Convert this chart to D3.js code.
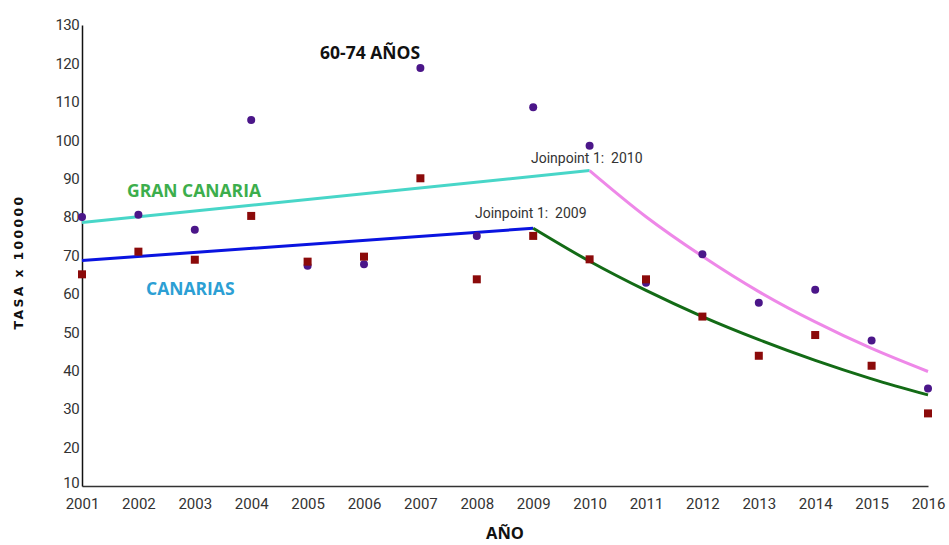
<!DOCTYPE html>
<html>
<head>
<meta charset="utf-8">
<script src="https://cdn.jsdelivr.net/npm/d3@7"></script>
<style>
  body { margin: 0; background: #fff; }
  .tick text { font-family: Roboto, "Open Sans", sans-serif; font-size: 15px; fill: #333; }
</style>
</head>
<body>
<div id="chart"></div>
<script>
// años
const years = [2001, 2002, 2003, 2004, 2005, 2006, 2007, 2008, 2009, 2010, 2011, 2012, 2013, 2014, 2015, 2016];
// tasas observadas (puntos)
const granCanaria = [80.0, 80.6, 76.7, 105.3, 67.3, 67.7, 118.8, 75.1, 108.6, 98.6, 62.9, 70.3, 57.7, 61.1, 47.9, 35.4];
const canarias = [65.1, 71.0, 68.9, 80.3, 68.4, 69.7, 90.1, 63.8, 75.1, 69.0, 63.8, 54.1, 43.9, 49.3, 41.3, 28.9];
// tramos joinpoint (valores ajustados)
const gcSeg1Years = [2001, 2010];
const gcSeg1 = [78.6, 92.1];
const gcSeg2Years = [2010, 2011, 2012, 2013, 2014, 2015, 2016];
const gcSeg2 = [92.1, 80.1, 69.8, 60.6, 52.7, 45.8, 39.8];
const caSeg1Years = [2001, 2009];
const caSeg1 = [68.7, 77.1];
const caSeg2Years = [2009, 2010, 2011, 2012, 2013, 2014, 2015, 2016];
const caSeg2 = [77.1, 68.5, 60.9, 54.1, 48.1, 42.7, 37.9, 33.7];
const yTicks = [10, 20, 30, 40, 50, 60, 70, 80, 90, 100, 110, 120, 130];

const W = 949, H = 545;
const margin = { top: 25, right: 21, bottom: 59, left: 82 };

const svg = d3.select('#chart').append('svg')
    .attr('width', W)
    .attr('height', H);

const xScale = d3.scaleLinear().domain([2001, 2016]).range([margin.left, W - margin.right]);
const yScale = d3.scaleLinear().domain([10, 130]).range([H - margin.bottom, margin.top]);

// ejes
let xAxis = d3.axisBottom(xScale).tickValues(years).tickFormat(d3.format('d')).tickSize(0).tickPadding(12);
let yAxis = d3.axisLeft(yScale).tickValues(yTicks).tickSize(0).tickPadding(3);

let gx = svg.append('g').attr('transform', 'translate(0,' + (H - margin.bottom) + ')').call(xAxis);
gx.select('.domain').attr('stroke', '#333').attr('stroke-width', 1.5);
let gy = svg.append('g').attr('transform', 'translate(' + margin.left + ',0)').call(yAxis);
gy.select('.domain').attr('stroke', '#111').attr('stroke-width', 1.5);
gy.selectAll('.tick text').style('letter-spacing', '-0.6px');
// el "10" queda pegado al eje x, lo subimos un poco
gy.selectAll('.tick text').filter(function (d) { return d === 10; }).attr('dy', '0.1em');

// líneas de tendencia
let line = d3.line()
    .x(function (d) { return xScale(d[0]); })
    .y(function (d) { return yScale(d[1]); })
    .curve(d3.curveMonotoneX);

let segments = [
    { xs: gcSeg1Years, ys: gcSeg1, color: '#48d6c8' },
    { xs: gcSeg2Years, ys: gcSeg2, color: '#ee88e8' },
    { xs: caSeg1Years, ys: caSeg1, color: '#0a14e0' },
    { xs: caSeg2Years, ys: caSeg2, color: '#136b16' }
];
segments.forEach(function (s) {
    svg.append('path')
        .datum(d3.zip(s.xs, s.ys))
        .attr('fill', 'none')
        .attr('stroke', s.color)
        .attr('stroke-width', 3)
        .attr('d', line);
});

// puntos
svg.selectAll('.gc').data(d3.zip(years, granCanaria)).enter()
    .append('circle').classed('gc', true)
    .attr('cx', function (d) { return xScale(d[0]); })
    .attr('cy', function (d) { return yScale(d[1]); })
    .attr('r', 4)
    .attr('fill', '#4b1689');

svg.selectAll('.ca').data(d3.zip(years, canarias)).enter()
    .append('rect').classed('ca', true)
    .attr('x', function (d) { return xScale(d[0]) - 4; })
    .attr('y', function (d) { return yScale(d[1]) - 4; })
    .attr('width', 8)
    .attr('height', 8)
    .attr('fill', '#8b0a0a');

// textos
function label(txt, x, y, opts) {
    svg.append('text')
        .attr('x', x).attr('y', y)
        .attr('text-anchor', opts.anchor || 'start')
        .attr('font-family', opts.family || '"Open Sans", sans-serif')
        .attr('font-size', opts.size)
        .attr('font-weight', opts.weight || 'normal')
        .attr('fill', opts.color)
        .style('white-space', 'pre')
        .text(txt);
}

label('60-74 AÑOS', 320, 59, { size: 17.5, weight: 'bold', color: '#111' });
label('GRAN CANARIA', 127, 197, { size: 17.5, weight: 'bold', color: '#3cae4c' });
label('CANARIAS', 146, 295, { size: 17.5, weight: 'bold', color: '#2c9fd4' });
label('Joinpoint 1:  2010', 531, 163, { size: 14, color: '#333', family: 'Roboto, sans-serif' });
label('Joinpoint 1:  2009', 475, 218, { size: 14, color: '#333', family: 'Roboto, sans-serif' });
label('AÑO', 505, 539, { size: 16.5, weight: 'bold', color: '#111', anchor: 'middle' });

svg.append('text')
    .attr('transform', 'translate(23,262) rotate(-90)')
    .attr('text-anchor', 'middle')
    .attr('font-family', '"DejaVu Sans", sans-serif')
    .attr('font-size', 12.5)
    .attr('font-weight', 'bold')
    .attr('letter-spacing', '2.3px')
    .attr('fill', '#111')
    .text('TASA x 100000');
</script>
</body>
</html>
